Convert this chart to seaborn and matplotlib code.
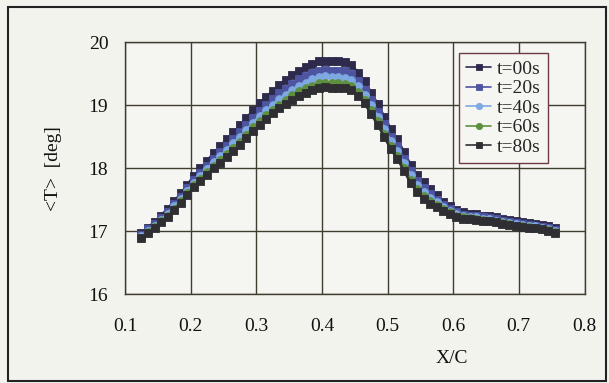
import numpy as np
import pandas as pd
import matplotlib
matplotlib.use("Agg")
import matplotlib.pyplot as plt
from matplotlib.patches import Rectangle
import seaborn as sns

# ---------------- data ----------------
x_c = [0.125, 0.135, 0.145, 0.155, 0.165, 0.175, 0.185, 0.195, 0.205, 0.215,
       0.225, 0.235, 0.245, 0.255, 0.265, 0.275, 0.285, 0.295, 0.305, 0.315,
       0.325, 0.335, 0.345, 0.355, 0.365, 0.375, 0.385, 0.395, 0.405, 0.415,
       0.425, 0.435, 0.445, 0.455, 0.465, 0.475, 0.485, 0.495, 0.505, 0.515,
       0.525, 0.535, 0.545, 0.555, 0.565, 0.575, 0.585, 0.595, 0.605, 0.615,
       0.625, 0.635, 0.645, 0.655, 0.665, 0.675, 0.685, 0.695, 0.705, 0.715,
       0.725, 0.735, 0.745, 0.755]

t00 = [16.97, 17.06, 17.15, 17.25, 17.36, 17.48, 17.60, 17.74, 17.88, 18.00,
       18.12, 18.24, 18.35, 18.46, 18.57, 18.68, 18.80, 18.92, 19.03, 19.13,
       19.23, 19.32, 19.40, 19.48, 19.55, 19.61, 19.66, 19.70, 19.71, 19.70,
       19.70, 19.69, 19.64, 19.52, 19.38, 19.20, 19.02, 18.82, 18.62, 18.46,
       18.26, 18.06, 17.90, 17.78, 17.67, 17.57, 17.47, 17.40, 17.34, 17.30,
       17.28, 17.27, 17.25, 17.24, 17.22, 17.20, 17.18, 17.16, 17.15, 17.13,
       17.12, 17.10, 17.08, 17.05]

t20 = [16.94, 17.03, 17.11, 17.21, 17.31, 17.43, 17.55, 17.68, 17.82, 17.93,
       18.04, 18.15, 18.26, 18.36, 18.47, 18.57, 18.68, 18.80, 18.91, 19.00,
       19.10, 19.19, 19.26, 19.34, 19.41, 19.46, 19.51, 19.55, 19.56, 19.55,
       19.55, 19.54, 19.50, 19.39, 19.25, 19.08, 18.90, 18.70, 18.50, 18.35,
       18.15, 17.96, 17.80, 17.69, 17.59, 17.50, 17.42, 17.36, 17.30, 17.26,
       17.25, 17.24, 17.22, 17.21, 17.19, 17.17, 17.15, 17.13, 17.12, 17.10,
       17.09, 17.07, 17.05, 17.02]

t40 = [16.92, 17.01, 17.09, 17.18, 17.28, 17.40, 17.51, 17.64, 17.77, 17.88,
       17.99, 18.10, 18.19, 18.29, 18.40, 18.49, 18.61, 18.72, 18.83, 18.92,
       19.01, 19.10, 19.17, 19.25, 19.31, 19.36, 19.41, 19.45, 19.46, 19.45,
       19.45, 19.44, 19.40, 19.30, 19.17, 19.00, 18.82, 18.63, 18.43, 18.27,
       18.08, 17.89, 17.73, 17.62, 17.53, 17.46, 17.38, 17.33, 17.27, 17.24,
       17.23, 17.22, 17.20, 17.19, 17.17, 17.15, 17.13, 17.11, 17.10, 17.09,
       17.08, 17.06, 17.04, 17.01]

t60 = [16.90, 16.99, 17.07, 17.16, 17.25, 17.36, 17.48, 17.60, 17.73, 17.83,
       17.94, 18.04, 18.13, 18.23, 18.33, 18.42, 18.53, 18.65, 18.75, 18.84,
       18.93, 19.01, 19.08, 19.16, 19.22, 19.27, 19.31, 19.35, 19.36, 19.35,
       19.35, 19.34, 19.31, 19.21, 19.09, 18.92, 18.75, 18.55, 18.35, 18.20,
       18.01, 17.82, 17.67, 17.56, 17.48, 17.41, 17.35, 17.30, 17.25, 17.22,
       17.21, 17.20, 17.18, 17.17, 17.15, 17.13, 17.11, 17.09, 17.08, 17.07,
       17.06, 17.04, 17.02, 16.99]

t80 = [16.89, 16.97, 17.05, 17.14, 17.23, 17.34, 17.45, 17.57, 17.70, 17.80,
       17.90, 18.00, 18.09, 18.18, 18.28, 18.37, 18.48, 18.59, 18.69, 18.78,
       18.87, 18.95, 19.02, 19.09, 19.15, 19.20, 19.24, 19.28, 19.29, 19.28,
       19.28, 19.27, 19.24, 19.15, 19.03, 18.86, 18.69, 18.50, 18.30, 18.15,
       17.96, 17.77, 17.62, 17.52, 17.44, 17.38, 17.32, 17.28, 17.23, 17.20,
       17.19, 17.18, 17.17, 17.16, 17.14, 17.12, 17.10, 17.08, 17.07, 17.06,
       17.05, 17.03, 17.01, 16.98]

series_labels = ["t=00s", "t=20s", "t=40s", "t=60s", "t=80s"]
series_values = [t00, t20, t40, t60, t80]
x_ticks = [0.1, 0.2, 0.3, 0.4, 0.5, 0.6, 0.7, 0.8]
y_ticks = [16, 17, 18, 19, 20]

# ---------------- style ----------------
sns.set_style("white")
plt.rcParams["font.family"] = ["Liberation Serif", "DejaVu Serif"]

colors = ["#2e2a4c", "#4d55a0", "#7ea8e2", "#5d8f3e", "#2f2f33"]
markers = ["s", "s", "o", "o", "s"]

fig = plt.figure(figsize=(6.09, 3.83), dpi=100, facecolor="#f3f3ee")
ax = fig.add_axes([125 / 609, 1 - 294.3 / 383, 459.5 / 609, 252 / 383])
ax.set_facecolor("#f5f5f1")

frames = []
for lab, vals in zip(series_labels, series_values):
    frames.append(pd.DataFrame({"X/C": x_c, "T": vals, "series": lab}))
df = pd.concat(frames, ignore_index=True)

for lab, col, mk in zip(series_labels, colors, markers):
    sub = df[df["series"] == lab]
    sns.lineplot(data=sub, x="X/C", y="T", ax=ax, color=col, marker=mk,
                 markersize=5.6, markeredgecolor=col, markeredgewidth=0.6,
                 linewidth=1.8, label=lab, sort=False, estimator=None)

ax.set_xlim(0.1, 0.8)
ax.set_ylim(16, 20)
ax.set_xticks(x_ticks)
ax.set_xticklabels([f"{v:.1f}" for v in x_ticks])
ax.set_yticks(y_ticks)
ax.set_yticklabels([str(v) for v in y_ticks])
ax.tick_params(axis="x", length=0, pad=17, labelsize=14, colors="#111111")
ax.tick_params(axis="y", length=0, pad=12, labelsize=14, colors="#111111")

ax.grid(True, color="#3f3c30", linewidth=1.0)
ax.set_axisbelow(True)
for s in ax.spines.values():
    s.set_color("#3f3c30")
    s.set_linewidth(1.0)

ax.set_xlabel("X/C", fontsize=14, color="#111111")
ax.xaxis.set_label_coords(0.712, -0.253)
ax.xaxis.label.set_va("center")
ax.set_ylabel("<T>  [deg]", fontsize=14, color="#111111")
ax.yaxis.set_label_coords(-0.155, 0.5)
ax.yaxis.label.set_va("center")

leg = ax.legend(loc="upper left", bbox_to_anchor=(0.727, 0.956), fontsize=14,
                frameon=True, fancybox=False, framealpha=1,
                handlelength=1.3, handletextpad=0.3, labelspacing=0.1,
                borderpad=0.35, borderaxespad=0)
leg.get_frame().set_edgecolor("#6e3a4a")
leg.get_frame().set_facecolor("#f5f5f1")
leg.get_frame().set_linewidth(1.0)
for h in leg.legend_handles:
    h.set_markersize(4.5)
    h.set_linewidth(1.2)

fig.patches.append(Rectangle((8 / 609, 2 / 383), 598 / 609, 374 / 383,
                             transform=fig.transFigure, fill=False,
                             edgecolor="#222222", linewidth=1.5))

fig.savefig("out.png", dpi=100, facecolor=fig.get_facecolor())
